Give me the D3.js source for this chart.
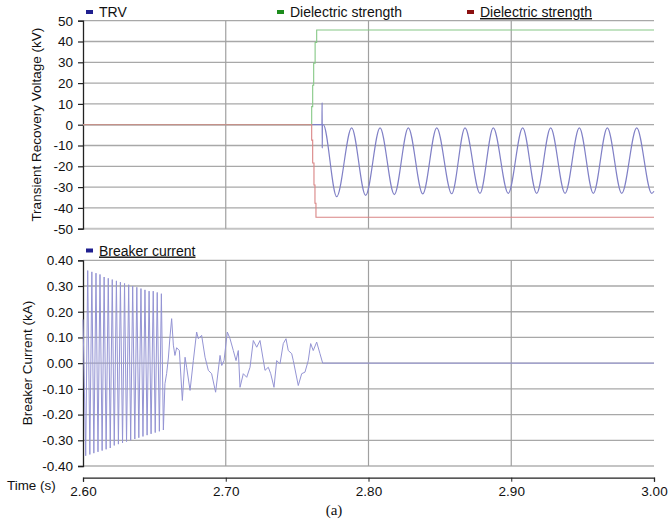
<!DOCTYPE html>
<html><head><meta charset="utf-8">
<script src="https://cdn.jsdelivr.net/npm/d3@7"></script>
<style>
body{margin:0;background:#fff;}
svg{display:block;font-family:"Liberation Sans",Arial,sans-serif;}
</style></head>
<body><svg id="c" width="669" height="522"></svg>
<script>
// ---------- DATA ----------
const timeTicks = [2.60, 2.70, 2.80, 2.90, 3.00];
const voltTicks = [50, 40, 30, 20, 10, 0, -10, -20, -30, -40, -50];
const currTicks = [0.40, 0.30, 0.20, 0.10, 0.00, -0.10, -0.20, -0.30, -0.40];

// TRV (kV)
const trvTime = [2.6000, 2.7674, 2.7675, 2.7676, 2.7677, 2.7683,
  2.7777, 2.7882, 2.7980, 2.8081, 2.8181, 2.8279, 2.8380, 2.8478, 2.8583, 2.8676,
  2.8781, 2.8874, 2.8979, 2.9080, 2.9178, 2.9276, 2.9377, 2.9477, 2.9575, 2.9673,
  2.9774, 2.9879, 2.9984, 3.0000];
const trvValue = [0, 0, 10.6, -11.3, 0, 0,
  -34.6, -1.5, -34.0, -1.5, -33.6, -1.5, -33.3, -1.5, -33.2, -1.5,
  -33.0, -1.5, -33.0, -1.5, -33.0, -1.5, -33.0, -1.5, -33.0, -1.5,
  -33.0, -1.5, -33.0, -32.0];

// Dielectric strength (positive), kV
const dsPosTime = [2.6000, 2.7602, 2.7609, 2.7616, 2.7626, 2.7637, 3.0000];
const dsPosValue = [0, 8.7, 19.0, 29.6, 39.6, 45.5, 45.5];

// Dielectric strength (negative), kV
const dsNegTime = [2.6000, 2.7602, 2.7609, 2.7618, 2.7625, 2.7632, 3.0000];
const dsNegValue = [0, -7.4, -18.4, -29.0, -37.8, -44.5, -44.5];

// Breaker current (kA)
const curTime = [2.6000,
  2.6019, 2.6033, 2.6048, 2.6062, 2.6076, 2.6091, 2.6105, 2.6119, 2.6134, 2.6148,
  2.6162, 2.6177, 2.6191, 2.6205, 2.6219, 2.6234, 2.6248, 2.6262, 2.6277, 2.6291,
  2.6305, 2.6320, 2.6334, 2.6348, 2.6363, 2.6377, 2.6391, 2.6406, 2.6420, 2.6434,
  2.6449, 2.6463, 2.6477, 2.6492, 2.6506, 2.6520, 2.6535, 2.6549, 2.6563,
  2.6574, 2.6586, 2.6598, 2.6609, 2.6621, 2.6633, 2.6644, 2.6656, 2.6675, 2.6696,
  2.6715, 2.6726, 2.6750, 2.6773, 2.6796, 2.6808, 2.6831, 2.6855, 2.6878, 2.6901,
  2.6929, 2.6960, 2.6972, 2.6988, 2.7011, 2.7030, 2.7053, 2.7072, 2.7088, 2.7100,
  2.7123, 2.7147, 2.7170, 2.7193, 2.7217, 2.7240, 2.7275, 2.7298, 2.7315, 2.7338,
  2.7357, 2.7380, 2.7403, 2.7422, 2.7438, 2.7462, 2.7473, 2.7508, 2.7532, 2.7555,
  2.7578, 2.7595, 2.7613, 2.7637, 2.7660, 2.7679, 3.0000];
const curValue = [0.17,
  -0.36, 0.36, -0.355, 0.355, -0.35, 0.35, -0.345, 0.345, -0.34, 0.335,
  -0.335, 0.33, -0.33, 0.325, -0.32, 0.32, -0.315, 0.315, -0.31, 0.31,
  -0.305, 0.305, -0.30, 0.30, -0.295, 0.295, -0.29, 0.29, -0.285, 0.285,
  -0.28, 0.28, -0.275, 0.28, -0.27, 0.275, -0.265, 0.27, -0.26,
  -0.08, -0.04, 0.02, 0.10, 0.173, 0.07, 0.03, 0.06, 0.049, -0.145,
  0.023, -0.016, -0.106, 0.010, 0.121, 0.095, 0.108, 0.023, -0.028, -0.041,
  -0.113, 0.030, -0.009, 0.010, 0.121, 0.095, 0.049, 0.010, 0.049, -0.094,
  -0.041, -0.055, -0.016, 0.088, 0.062, 0.088, -0.028, -0.016, -0.041, -0.094,
  0.010, -0.003, 0.076, 0.095, 0.049, 0.037, 0.010, -0.087, -0.041, -0.035,
  0.010, 0.076, 0.049, 0.082, 0.037, 0, 0];

const legendTop = [
  {label: "TRV", color: "#1f1f8f", underline: false},
  {label: "Dielectric strength", color: "#1c8c1c", underline: false},
  {label: "Dielectric strength", color: "#8b1010", underline: true}
];
const legendBottom = [{label: "Breaker current", color: "#1f1f8f", underline: true}];

// ---------- LAYOUT ----------
const svg = d3.select("#c");
const xL = 83, xR = 654;
const x = d3.scaleLinear().domain([2.6, 3.0]).range([xL, xR]);
const yV = d3.scaleLinear().domain([-50, 50]).range([228.7, 20.7]);
const yC = d3.scaleLinear().domain([-0.4, 0.4]).range([466, 260.3]);
const hy = f => d => f(d).replace("\u2212", "-");

function panel(y, ticks, fmt) {
  const g = svg.append("g");
  g.selectAll("line.h").data(ticks).join("line")
    .attr("x1", xL).attr("x2", xR)
    .attr("y1", d => y(d)).attr("y2", d => y(d))
    .attr("stroke", (d,i) => i === ticks.length - 1 ? "#c4c4c4" : "#a8a8a8")
    .attr("stroke-width", (d,i) => i === ticks.length - 1 ? 2 : 1.3);
  g.selectAll("line.v").data(timeTicks.slice(1, -1)).join("line")
    .attr("x1", d => x(d)).attr("x2", d => x(d))
    .attr("y1", y.range()[1]).attr("y2", y.range()[0])
    .attr("stroke", "#a0a0a0").attr("stroke-width", 1.2);
  const ax = d3.axisLeft(y).tickValues(ticks).tickFormat(hy(fmt)).tickSize(5).tickPadding(5);
  const ga = g.append("g").attr("transform", `translate(${xL},0)`).call(ax);
  ga.select(".domain").attr("stroke", "#222").attr("stroke-width", 1.3);
  ga.selectAll(".tick line").attr("stroke", "#222").attr("stroke-width", 1.2);
  ga.selectAll("text").attr("font-size", 13.5).attr("fill", "#111")
    .attr("font-family", "'Liberation Sans', Arial, sans-serif");
  return g;
}
panel(yV, voltTicks, d3.format("d"));
panel(yC, currTicks, d3.format(".2f"));

const tAxis = d3.axisBottom(x).tickValues(timeTicks).tickFormat(d3.format(".2f")).tickSize(4).tickPadding(5);
const gt = svg.append("g").attr("transform", "translate(0,477.7)").call(tAxis);
gt.select(".domain").attr("stroke", "#222").attr("stroke-width", 1.3);
gt.selectAll(".tick line").attr("stroke", "#222");
gt.selectAll("text").attr("font-size", 13.5).attr("fill", "#111")
  .attr("font-family", "'Liberation Sans', Arial, sans-serif");

// ---------- SERIES ----------
function zipd(t, v) { return t.map((d, i) => [d, v[i]]); }

svg.append("path").datum(zipd(trvTime, trvValue))
  .attr("d", d3.line().x(d => x(d[0])).y(d => yV(d[1])).curve(d3.curveMonotoneX))
  .attr("fill", "none").attr("stroke", "#8080c6").attr("stroke-width", 1.2);
svg.append("path").datum(zipd(dsPosTime, dsPosValue))
  .attr("d", d3.line().x(d => x(d[0])).y(d => yV(d[1])).curve(d3.curveStepAfter))
  .attr("fill", "none").attr("stroke", "#86c886").attr("stroke-width", 1.1);
svg.append("path").datum(zipd(dsNegTime, dsNegValue))
  .attr("d", d3.line().x(d => x(d[0])).y(d => yV(d[1])).curve(d3.curveStepAfter))
  .attr("fill", "none").attr("stroke", "#d98585").attr("stroke-width", 1.1);

svg.append("path").datum(zipd(curTime, curValue))
  .attr("d", d3.line().x(d => x(d[0])).y(d => yC(d[1])))
  .attr("fill", "none").attr("stroke", "#9494d4").attr("stroke-width", 1);

// ---------- LEGENDS ----------
function legend(items, xs, yText) {
  items.forEach((it, i) => {
    const g = svg.append("g");
    g.append("rect").attr("x", xs[i]).attr("y", yText - 7).attr("width", 7).attr("height", 4).attr("fill", it.color);
    g.append("text").attr("x", xs[i] + 13).attr("y", yText).text(it.label)
      .attr("font-size", 14).attr("fill", "#111")
      .attr("text-decoration", it.underline ? "underline" : null);
  });
}
legend(legendTop, [86, 277, 467], 17);
legend(legendBottom, [86], 255.5);

// ---------- TITLES ----------
svg.append("text").attr("transform", "translate(41,124.7) rotate(-90)")
  .attr("text-anchor", "middle").attr("font-size", 13.5).attr("fill", "#111")
  .text("Transient Recovery Voltage (kV)");
svg.append("text").attr("transform", "translate(31.5,363) rotate(-90)")
  .attr("text-anchor", "middle").attr("font-size", 13.5).attr("fill", "#111")
  .text("Breaker Current (kA)");
svg.append("text").attr("x", 7).attr("y", 490).attr("font-size", 13.4).attr("fill", "#111").text("Time (s)");
svg.append("text").attr("x", 334).attr("y", 515).attr("text-anchor", "middle")
  .attr("font-family", "'Liberation Serif', 'Times New Roman', serif").attr("font-size", 15).attr("fill", "#111").text("(a)");
</script></body></html>
